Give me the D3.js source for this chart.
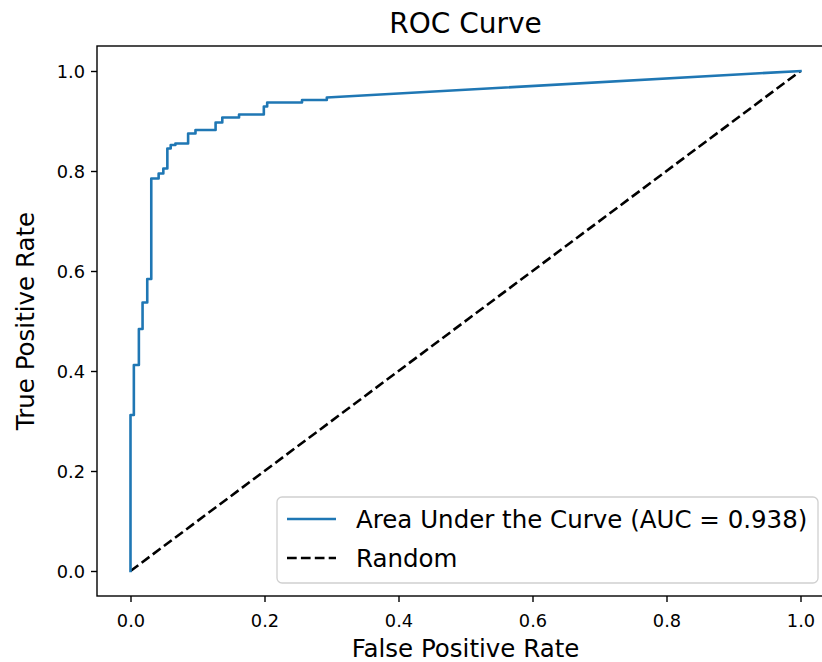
<!DOCTYPE html>
<html>
<head>
<meta charset="utf-8">
<script src="https://cdn.jsdelivr.net/npm/d3@7"></script>
<style>
  html, body { margin: 0; padding: 0; background: #fff; }
  svg { display: block; font-family: "DejaVu Sans", sans-serif; }
</style>
</head>
<body>
<svg id="chart" width="822" height="662"></svg>
<script>
// ---- data ----
const fpr = [0, 0, 0.005, 0.005, 0.0125, 0.0125, 0.018, 0.018, 0.025, 0.025, 0.031, 0.031,
  0.042, 0.042, 0.049, 0.049, 0.055, 0.055, 0.06, 0.06, 0.067, 0.067, 0.086, 0.086,
  0.097, 0.097, 0.127, 0.127, 0.137, 0.137, 0.162, 0.162, 0.199, 0.199, 0.204, 0.204,
  0.256, 0.256, 0.293, 0.293, 1.0];
const tpr = [0, 0.312, 0.312, 0.412, 0.412, 0.484, 0.484, 0.537, 0.537, 0.584, 0.584, 0.785,
  0.785, 0.795, 0.795, 0.805, 0.805, 0.845, 0.845, 0.852, 0.852, 0.855, 0.855, 0.875,
  0.875, 0.882, 0.882, 0.897, 0.897, 0.907, 0.907, 0.913, 0.913, 0.929, 0.929, 0.937,
  0.937, 0.942, 0.942, 0.947, 1.0];
const randomX = [0, 1];
const randomY = [0, 1];
const xTicks = [0.0, 0.2, 0.4, 0.6, 0.8, 1.0];
const yTicks = [0.0, 0.2, 0.4, 0.6, 0.8, 1.0];
const aucLabel = "Area Under the Curve (AUC = 0.938)";
const randomLabel = "Random";
const titleText = "ROC Curve";
const xLabel = "False Positive Rate";
const yLabel = "True Positive Rate";

// ---- layout ----
const svg = d3.select("#chart");
const L = 97, T = 46, R = 834, B = 596;
const x = d3.scaleLinear().domain([-0.05, 1.05]).range([L, R]);
const y = d3.scaleLinear().domain([-0.05, 1.05]).range([B, T]);

svg.append("rect").attr("width", 822).attr("height", 662).attr("fill", "#fff");

const clip = svg.append("clipPath").attr("id", "plotclip");
clip.append("rect").attr("x", L).attr("y", T).attr("width", R - L).attr("height", B - T);

const plot = svg.append("g").attr("clip-path", "url(#plotclip)");

// Random diagonal
plot.append("path")
  .datum(randomX.map((d, i) => [d, randomY[i]]))
  .attr("d", d3.line().x(d => x(d[0])).y(d => y(d[1])))
  .attr("fill", "none").attr("stroke", "#000").attr("stroke-width", 2.6)
  .attr("stroke-dasharray", "9.7,4.2");

// ROC curve
plot.append("path")
  .datum(fpr.map((d, i) => [d, tpr[i]]))
  .attr("d", d3.line().x(d => x(d[0])).y(d => y(d[1])))
  .attr("fill", "none").attr("stroke", "#1f77b4").attr("stroke-width", 2.6)
  .attr("stroke-linejoin", "round").attr("stroke-linecap", "square");

// axes
const xAxis = d3.axisBottom(x).tickValues(xTicks).tickFormat(d3.format(".1f")).tickSizeOuter(0).tickSize(6).tickPadding(6);
const yAxis = d3.axisLeft(y).tickValues(yTicks).tickFormat(d3.format(".1f")).tickSizeOuter(0).tickSize(6).tickPadding(6);

const gx = svg.append("g").attr("transform", `translate(0,${B})`).call(xAxis);
const gy = svg.append("g").attr("transform", `translate(${L},0)`).call(yAxis);
[gx, gy].forEach(g => {
  g.select(".domain").remove();
  g.selectAll(".tick line").attr("stroke", "#000").attr("stroke-width", 1.4);
  g.selectAll(".tick text").attr("fill", "#000").style("font-size", "17.8px")
    .style("font-family", "DejaVu Sans, sans-serif");
});
gx.selectAll(".tick text").attr("dy", null).attr("y", 0).attr("dominant-baseline", null)
  .attr("transform", "translate(0,31)");
gy.selectAll(".tick text").attr("dy", "0.35em");

// frame
svg.append("rect").attr("x", L).attr("y", T).attr("width", R - L).attr("height", B - T)
  .attr("fill", "none").attr("stroke", "#000").attr("stroke-width", 1.4);

// title & labels
svg.append("text").attr("x", (L + R) / 2).attr("y", 33).attr("text-anchor", "middle")
  .style("font-size", "28px").attr("fill", "#000").text(titleText);
svg.append("text").attr("x", (L + R) / 2).attr("y", 657).attr("text-anchor", "middle")
  .style("font-size", "24.5px").attr("fill", "#000").text(xLabel);
svg.append("text").attr("transform", `translate(34,${(T + B) / 2}) rotate(-90)`)
  .attr("text-anchor", "middle").style("font-size", "24.5px").attr("fill", "#000").text(yLabel);

// legend
const lg = svg.append("g");
lg.append("rect").attr("x", 277).attr("y", 497).attr("width", 541).attr("height", 86)
  .attr("rx", 5).attr("fill", "#fff").attr("fill-opacity", 0.8)
  .attr("stroke", "#d0d0d0").attr("stroke-width", 1.3);
const items = [
  { label: aucLabel, color: "#1f77b4", dash: null, cy: 519 },
  { label: randomLabel, color: "#000", dash: "9.7,4.2", cy: 558 }
];
items.forEach(it => {
  const ln = lg.append("line").attr("x1", 287).attr("x2", 336).attr("y1", it.cy).attr("y2", it.cy)
    .attr("stroke", it.color).attr("stroke-width", 2.6);
  if (it.dash) ln.attr("stroke-dasharray", it.dash);
  lg.append("text").attr("x", 356).attr("y", it.cy).attr("dy", "0.35em")
    .style("font-size", "24.5px").attr("fill", "#000").text(it.label);
});
</script>
</body>
</html>
